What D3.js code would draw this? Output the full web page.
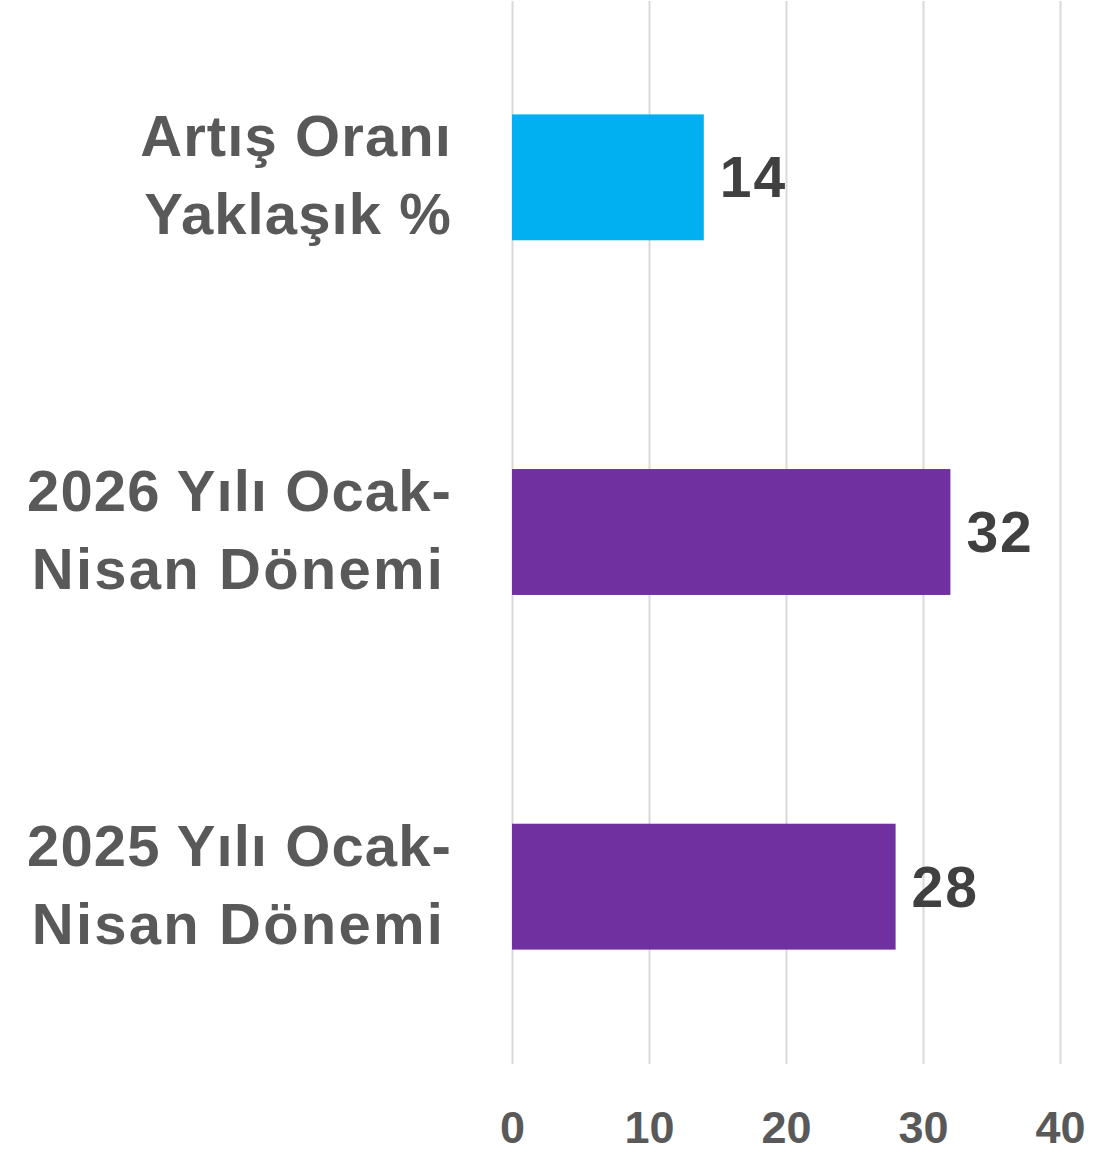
<!DOCTYPE html>
<html>
<head>
<meta charset="utf-8">
<script src="https://cdn.jsdelivr.net/npm/d3@7"></script>
<style>
    html, body { margin: 0; padding: 0; background: #fff; }
    svg { display: block; font-family: "Liberation Sans", Arial, sans-serif; font-weight: bold; }
</style>
</head>
<body>
<div id="chart"></div>
<script>
// Data
const categories = ['Artış Oranı Yaklaşık %', '2026 Yılı Ocak-Nisan Dönemi', '2025 Yılı Ocak-Nisan Dönemi'];
const categoryLines = [['Artış Oranı', 'Yaklaşık %'], ['2026 Yılı Ocak-', 'Nisan Dönemi'], ['2025 Yılı Ocak-', 'Nisan Dönemi']];
const values = [14, 32, 28];
const barColors = ['#00B0F0', '#7030A0', '#7030A0'];
const xTicks = [0, 10, 20, 30, 40];

const width = 1115, height = 1153;
const margin = { top: 0, right: 55, bottom: 89, left: 512 };

const svg = d3.select('#chart')
    .append('svg')
    .attr('width', width)
    .attr('height', height);

const x = d3.scaleLinear()
    .domain([0, 40])
    .range([margin.left, width - margin.right]);

const y = d3.scaleBand()
    .domain(categories)
    .range([margin.top, height - margin.bottom])
    .paddingInner(0.645)
    .paddingOuter(0.3225);

// Gridlines
const grid = svg.append('g')
    .attr('transform', `translate(0, ${height - margin.bottom})`)
    .call(d3.axisBottom(x).tickValues(xTicks).tickSize(-(height - margin.bottom - margin.top - 1)).tickFormat(''));
grid.select('.domain').remove();
grid.selectAll('line').attr('stroke', '#d9d9d9').attr('stroke-width', 2);

// Tick labels
const xAxis = svg.append('g')
    .attr('transform', `translate(0, ${height - 10})`)
    .call(d3.axisBottom(x).tickValues(xTicks).tickSize(0).tickPadding(0));
xAxis.select('.domain').remove();
xAxis.selectAll('text')
    .attr('dy', 0)
    .attr('y', 0)
    .style('font-size', '45px')
    .style('font-family', '"Liberation Sans", Arial, sans-serif')
    .style('font-weight', 'bold')
    .attr('fill', '#595959');

// Bars
svg.selectAll('rect.bar')
    .data(values)
    .join('rect')
    .attr('class', 'bar')
    .attr('x', x(0))
    .attr('y', (d, i) => y(categories[i]))
    .attr('width', d => x(d) - x(0))
    .attr('height', y.bandwidth())
    .attr('fill', (d, i) => barColors[i]);

// Value labels
svg.selectAll('text.value')
    .data(values)
    .join('text')
    .attr('class', 'value')
    .attr('x', d => x(d) + 16)
    .attr('y', (d, i) => y(categories[i]) + y.bandwidth() / 2 + 20)
    .style('font-size', '57px')
    .style('letter-spacing', '2px')
    .attr('fill', '#404040')
    .text(d => d);

// Category labels
const labels = svg.selectAll('text.cat')
    .data(categoryLines)
    .join('text')
    .attr('class', 'cat')
    .attr('text-anchor', 'end')
    .style('font-size', '58px')
    .style('letter-spacing', '1.1px')
    .attr('fill', '#595959');

labels.selectAll('tspan')
    .data((d, i) => d.map((line, j) => ({ line, j, i })))
    .join('tspan')
    .attr('x', d => d.i > 0 && d.j === 1 ? 445 : 452)
    .attr('y', d => y(categories[d.i]) + y.bandwidth() / 2 - 21 + d.j * 78)
    .style('letter-spacing', d => d.i > 0 && d.j === 1 ? '2.2px' : null)
    .text(d => d.line);
</script>
</body>
</html>
